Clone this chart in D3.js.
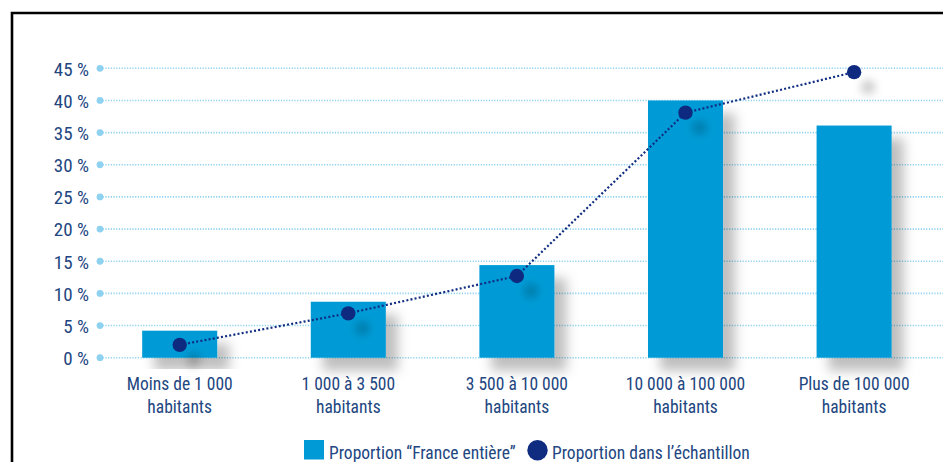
<!DOCTYPE html>
<html>
<head>
<meta charset="utf-8">
<script src="https://cdn.jsdelivr.net/npm/d3@7"></script>
<style>
  html, body { margin: 0; padding: 0; background: #fff; }
  svg { display: block; }
  text { font-family: "Liberation Sans Narrow", "Arial Narrow", "Roboto Condensed", Roboto, sans-serif; fill: #22467f; }
</style>
</head>
<body>
<svg id="chart" width="943" height="462"></svg>
<script>
// Répartition des communes par taille
const categories = [
  ["Moins de 1 000", "habitants"],
  ["1 000 à 3 500", "habitants"],
  ["3 500 à 10 000", "habitants"],
  ["10 000 à 100 000", "habitants"],
  ["Plus de 100 000", "habitants"]
];
const franceEntiere = [4.2, 8.7, 14.4, 40.0, 36.1];
const echantillon = [2.0, 6.9, 12.7, 38.1, 44.4];
const yTicks = [0, 5, 10, 15, 20, 25, 30, 35, 40, 45];
const legendLabels = ["Proportion \u201cFrance enti\u00e8re\u201d", "Proportion dans l\u2019\u00e9chantillon"];

const barColor = "#009bd6";
const dotColor = "#0f2c80";
const gridColor = "#8ed2f0";

const svg = d3.select("#chart");

// Drop shadows
const defs = svg.append("defs");
const barShadow = defs.append("filter").attr("id", "barShadow")
  .attr("x", "-20%").attr("y", "-20%").attr("width", "160%").attr("height", "160%");
barShadow.append("feDropShadow").attr("dx", 12).attr("dy", 13)
  .attr("stdDeviation", 6).attr("flood-color", "#000").attr("flood-opacity", 0.25);
const dotShadow = defs.append("filter").attr("id", "dotShadow")
  .attr("x", "-100%").attr("y", "-100%").attr("width", "400%").attr("height", "400%");
dotShadow.append("feDropShadow").attr("dx", 14).attr("dy", 15)
  .attr("stdDeviation", 4).attr("flood-color", "#000").attr("flood-opacity", 0.2);

// Frame
svg.append("path")
  .attr("d", "M12,462 V13 H943")
  .attr("fill", "none").attr("stroke", "#000").attr("stroke-width", 2.6);

const x = d3.scaleBand()
  .domain(d3.range(categories.length))
  .range([95.4, 938.4])
  .paddingInner(0.555)
  .paddingOuter(0.2775);

const y = d3.scaleLinear().domain([0, 45]).range([357.7, 68.3]);

// Grid
const grid = svg.append("g");
grid.selectAll("line").data(yTicks).join("line")
  .attr("x1", 100).attr("x2", 943)
  .attr("y1", d => y(d)).attr("y2", d => y(d))
  .attr("stroke", gridColor).attr("stroke-width", 1.6)
  .attr("stroke-dasharray", "1.2,1.5");
grid.selectAll("circle").data(yTicks).join("circle")
  .attr("cx", 100).attr("cy", d => y(d)).attr("r", 3.4)
  .attr("fill", gridColor);

// Y axis labels
const yAxis = d3.axisLeft(y).tickValues(yTicks).tickSize(0).tickPadding(0)
  .tickFormat(d => d + " %");
svg.append("g").attr("transform", "translate(89,0)").call(yAxis)
  .call(g => g.select(".domain").remove())
  .call(g => g.selectAll("text")
    .attr("font-size", 19).attr("fill", "#22467f")
    .attr("font-family", null).attr("dy", "0.36em"));

// Bars
svg.append("g").selectAll("rect").data(franceEntiere).join("rect")
  .attr("x", (d, i) => x(i))
  .attr("width", x.bandwidth())
  .attr("y", d => y(d))
  .attr("height", d => y(0) - y(d))
  .attr("fill", barColor)
  .attr("filter", "url(#barShadow)");

// Sample line
const line = d3.line()
  .x((d, i) => x(i) + x.bandwidth() / 2)
  .y(d => y(d));
svg.append("path").datum(echantillon)
  .attr("d", line)
  .attr("fill", "none").attr("stroke", dotColor)
  .attr("stroke-width", 2.2).attr("stroke-dasharray", "2,2.2");

svg.append("g").selectAll("circle").data(echantillon).join("circle")
  .attr("cx", (d, i) => x(i) + x.bandwidth() / 2)
  .attr("cy", d => y(d))
  .attr("r", 7.2)
  .attr("fill", dotColor)
  .attr("filter", "url(#dotShadow)");

// Category labels
const xAxis = svg.append("g");
categories.forEach((lines, i) => {
  const t = xAxis.append("text")
    .attr("text-anchor", "middle")
    .attr("font-size", 17.5)
    .attr("x", x(i) + x.bandwidth() / 2)
    .attr("y", 390);
  lines.forEach((s, k) => {
    t.append("tspan").attr("x", x(i) + x.bandwidth() / 2)
      .attr("y", 390 + k * 22.7).text(s);
  });
});

// Legend
const legend = svg.append("g");
legend.append("rect").attr("x", 304).attr("y", 440).attr("width", 20).attr("height", 19.5)
  .attr("fill", barColor);
legend.append("text").attr("x", 329).attr("y", 459.3).attr("font-size", 17.5)
  .text(legendLabels[0]);
legend.append("circle").attr("cx", 537.5).attr("cy", 450.3).attr("r", 10.2)
  .attr("fill", dotColor);
legend.append("text").attr("x", 552).attr("y", 459.3).attr("font-size", 17.5)
  .text(legendLabels[1]);
</script>
</body>
</html>
